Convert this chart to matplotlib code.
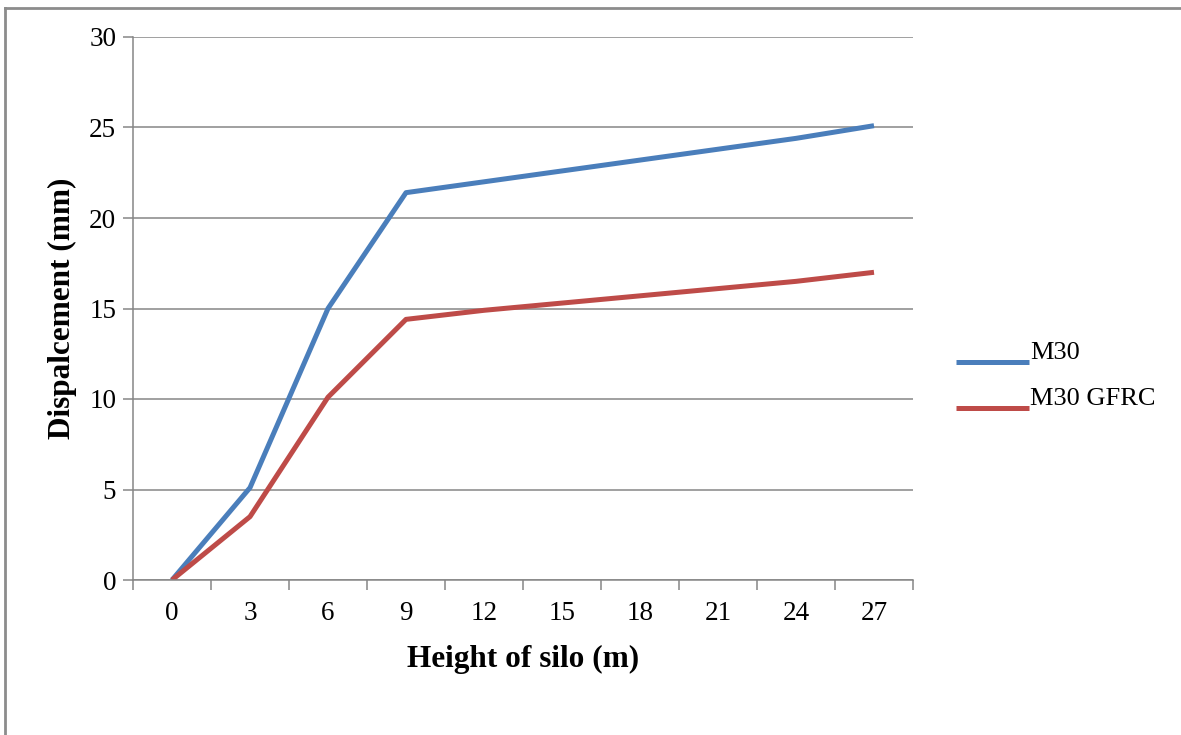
import numpy as np
import matplotlib.pyplot as plt
from matplotlib.lines import Line2D

# displacement along silo height
heights = ["0", "3", "6", "9", "12", "15", "18", "21", "24", "27"]
m30 = [0.0, 5.1, 15.0, 21.4, 22.0, 22.6, 23.2, 23.8, 24.4, 25.1]
m30_gfrc = [0.0, 3.5, 10.1, 14.4, 14.9, 15.3, 15.7, 16.1, 16.5, 17.0]
series_names = ["M30", "M30 GFRC"]

plt.rcParams['font.family'] = ['Liberation Serif', 'DejaVu Serif']
grey = "#868686"
W, H = 1181, 735

fig = plt.figure(figsize=(W / 100, H / 100), dpi=100)
ax = fig.add_axes([133 / W, 1 - 580 / H, 780 / W, 543 / H])

x = np.arange(len(heights))
lines = []
for vals, name, col in zip([m30, m30_gfrc], series_names, ["#4A7EBB", "#BE4B48"]):
    ln, = ax.plot(x, vals, color=col, lw=3.6, label=name, solid_capstyle="butt")
    lines.append(ln)

ax.set_xlim(-0.5, len(heights) - 0.5)
ax.set_ylim(0, 30)
ax.set_yticks(range(0, 31, 5))
ax.set_xticks(np.arange(-0.5, len(heights)), minor=False)
ax.set_xticklabels([])
ax.set_xticks(x, minor=True)
ax.set_xticklabels(heights, minor=True)
ax.tick_params(axis="x", which="major", length=7, width=1.1, color=grey, direction="out")
ax.tick_params(axis="x", which="minor", length=0, pad=15, labelsize=19.5)
ax.tick_params(axis="y", length=7, width=1.1, color=grey, direction="out", labelsize=19.5, pad=5)

ax.grid(axis="y", color=grey, lw=1.1)
ax.set_axisbelow(True)
for side in ["top", "right"]:
    ax.spines[side].set_visible(False)
for side in ["left", "bottom"]:
    ax.spines[side].set_color(grey)
    ax.spines[side].set_linewidth(1.1)

ax.set_xlabel("Height of silo (m)", fontsize=22.5, fontweight="bold", labelpad=14)
ax.set_ylabel("Dispalcement (mm)", fontsize=22.5, fontweight="bold", labelpad=9)

# legend: swatch line sits under the text baseline
for i, ln in enumerate(lines):
    y = 1 - (362 + 46 * i) / H
    fig.add_artist(Line2D([956 / W, 1029 / W], [y, y], transform=fig.transFigure,
                          color=ln.get_color(), lw=3.6, solid_capstyle="butt"))
    fig.text(1030 / W, y + 3 / H, ln.get_label(), fontsize=19, va="baseline", ha="left")

# chart area border (top and left edges)
fig.add_artist(Line2D([5 / W, 1.0], [1 - 8 / H, 1 - 8 / H], transform=fig.transFigure,
                      color="#8C8C8C", lw=2))
fig.add_artist(Line2D([5 / W, 5 / W], [0, 1 - 8 / H], transform=fig.transFigure,
                      color="#8C8C8C", lw=2))

fig.savefig("out.png", dpi=100)
